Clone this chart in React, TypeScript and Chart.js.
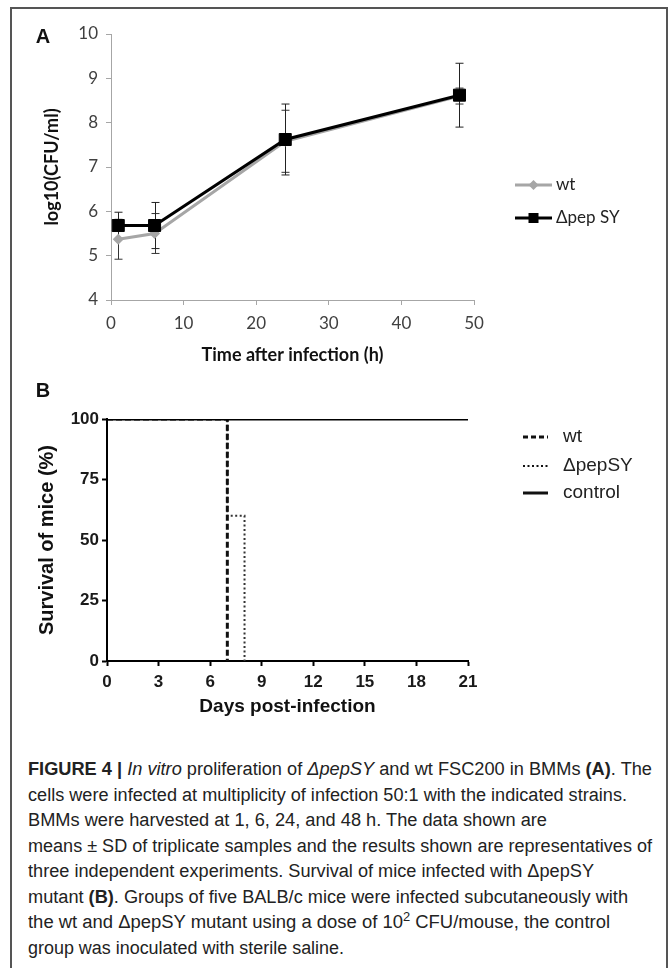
import React, { useEffect, useLayoutEffect, useRef } from "react";
import { Chart, registerables } from "chart.js";

Chart.register(...registerables);

// ---------- Panel A data ----------
const hours = [1, 6, 24, 48];
const wtMean = [5.37, 5.5, 7.58, 8.6];
const wtSD = [0.45, 0.45, 0.7, 0.18];
const pepMean = [5.68, 5.68, 7.62, 8.62];
const pepSD = [0.3, 0.52, 0.8, 0.72];
const xTicksA = [0, 10, 20, 30, 40, 50];
const yTicksA = [4, 5, 6, 7, 8, 9, 10];

// ---------- Panel B data ----------
const wtDays = [0, 7];
const wtSurvival = [100, 0];
const pepDays = [0, 7, 8];
const pepSurvival = [100, 60, 0];
const controlDays = [0, 21];
const controlSurvival = [100, 100];
const xTicksB = [0, 3, 6, 9, 12, 15, 18, 21];
const yTicksB = [0, 25, 50, 75, 100];

const FONT_A = "Lato, 'Open Sans', sans-serif";
const FONT_B = "'Liberation Sans', Arial, sans-serif";

const errorBarPlugin = {
  id: "errorBars",
  beforeDatasetsDraw(chart: any, _args: any, opts: any) {
    const { ctx, scales } = chart;
    const x = scales.x;
    const y = scales.y;
    ctx.save();
    ctx.lineWidth = 1;
    for (const set of opts.sets || []) {
      ctx.strokeStyle = set.color;
      set.xs.forEach((xv: number, i: number) => {
        const px = Math.round(x.getPixelForValue(xv)) + 0.5;
        const top = y.getPixelForValue(set.mean[i] + set.sd[i]);
        const bot = y.getPixelForValue(set.mean[i] - set.sd[i]);
        ctx.beginPath();
        ctx.moveTo(px, top);
        ctx.lineTo(px, bot);
        ctx.moveTo(px - 4, top);
        ctx.lineTo(px + 4, top);
        ctx.moveTo(px - 4, bot);
        ctx.lineTo(px + 4, bot);
        ctx.stroke();
      });
    }
    ctx.restore();
  },
};

const legendAPlugin = {
  id: "legendA",
  afterDraw(chart: any) {
    const { ctx, chartArea } = chart;
    const x0 = chartArea.right + 41;
    const x1 = x0 + 37;
    const xm = (x0 + x1) / 2;
    ctx.save();
    // panel letter
    ctx.fillStyle = "#111";
    ctx.font = `bold 20px ${FONT_B}`;
    ctx.textAlign = "center";
    ctx.textBaseline = "middle";
    ctx.fillText("A", 32, 29);

    ctx.font = `17px ${FONT_A}`;
    ctx.textAlign = "left";
    // wt
    let yy = 177;
    ctx.strokeStyle = "#a6a6a6";
    ctx.lineWidth = 3;
    ctx.beginPath();
    ctx.moveTo(x0, yy);
    ctx.lineTo(x1, yy);
    ctx.stroke();
    ctx.fillStyle = "#a6a6a6";
    ctx.beginPath();
    ctx.moveTo(xm, yy - 5);
    ctx.lineTo(xm + 5, yy);
    ctx.lineTo(xm, yy + 5);
    ctx.lineTo(xm - 5, yy);
    ctx.closePath();
    ctx.fill();
    ctx.fillStyle = "#222";
    ctx.fillText("wt", x1 + 4, yy);
    // pep
    yy = 210;
    ctx.strokeStyle = "#000";
    ctx.beginPath();
    ctx.moveTo(x0, yy);
    ctx.lineTo(x1, yy);
    ctx.stroke();
    ctx.fillStyle = "#000";
    ctx.fillRect(xm - 5, yy - 5, 10, 10);
    ctx.fillStyle = "#222";
    ctx.fillText("\u0394pep SY", x1 + 4, yy);
    ctx.restore();
  },
};

const legendBPlugin = {
  id: "legendB",
  afterDraw(chart: any) {
    const { ctx, chartArea } = chart;
    const x0 = chartArea.right + 55;
    const x1 = x0 + 25;
    ctx.save();
    ctx.fillStyle = "#111";
    ctx.font = `bold 20px ${FONT_B}`;
    ctx.textAlign = "center";
    ctx.textBaseline = "middle";
    ctx.fillText("B", 32, 11);

    ctx.font = `19px ${FONT_B}`;
    ctx.textAlign = "left";
    ctx.fillStyle = "#222";
    ctx.strokeStyle = "#111";
    const rows = [
      { label: "wt", dash: [5, 3], width: 3, y: 57 },
      { label: "\u0394pepSY", dash: [2, 2.5], width: 2, y: 86 },
      { label: "control", dash: [], width: 3, y: 113 },
    ];
    for (const r of rows) {
      ctx.setLineDash(r.dash);
      ctx.lineWidth = r.width;
      ctx.beginPath();
      ctx.moveTo(x0, r.y);
      ctx.lineTo(x1, r.y);
      ctx.stroke();
      ctx.fillText(r.label, x1 + 15, r.y);
    }
    ctx.restore();
  },
};

function ChartA() {
  const ref = useRef<HTMLCanvasElement>(null);
  useEffect(() => {
    const chart = new Chart(ref.current!, {
      type: "line",
      data: {
        datasets: [
          {
            label: "\u0394pep SY",
            data: hours.map((h, i) => ({ x: h, y: pepMean[i] })),
            borderColor: "#000",
            backgroundColor: "#000",
            borderWidth: 3,
            pointStyle: "rect",
            pointRadius: 8.5,
            pointBorderWidth: 1,
          },
          {
            label: "wt",
            data: hours.map((h, i) => ({ x: h, y: wtMean[i] })),
            borderColor: "#a6a6a6",
            backgroundColor: "#a6a6a6",
            borderWidth: 3,
            pointStyle: "rectRot",
            pointRadius: 5.5,
            pointBorderWidth: 0,
          },
        ],
      },
      options: {
        animation: false,
        responsive: false,
        events: [],
        layout: { padding: { top: 26, right: 193, left: 0, bottom: 0 } },
        plugins: {
          legend: { display: false },
          tooltip: { enabled: false },
          errorBars: {
            sets: [
              { xs: hours, mean: wtMean, sd: wtSD, color: "#333" },
              { xs: hours, mean: pepMean, sd: pepSD, color: "#222" },
            ],
          },
        } as any,
        scales: {
          x: {
            type: "linear",
            min: xTicksA[0],
            max: xTicksA[xTicksA.length - 1],
            ticks: {
              stepSize: xTicksA[1] - xTicksA[0],
              color: "#404040",
              font: { family: FONT_A, size: 17 },
              padding: 8,
              maxRotation: 0,
            },
            grid: { drawOnChartArea: false, tickLength: 5, color: "#a6a6a6" },
            border: { color: "#a6a6a6", width: 1 },
            title: {
              display: true,
              text: "Time after infection (h)",
              color: "#111",
              font: { family: FONT_A, size: 18, weight: "bold" },
              padding: { top: 0, bottom: 14 },
            },
            afterFit(s: any) {
              s.height = 80;
            },
          },
          y: {
            type: "linear",
            min: yTicksA[0],
            max: yTicksA[yTicksA.length - 1],
            ticks: {
              stepSize: yTicksA[1] - yTicksA[0],
              color: "#404040",
              font: { family: FONT_A, size: 17 },
              padding: 8,
            },
            grid: { drawOnChartArea: false, tickLength: 5, color: "#a6a6a6" },
            border: { color: "#a6a6a6", width: 1 },
            title: {
              display: true,
              text: "log10(CFU/ml)",
              color: "#111",
              font: { family: FONT_A, size: 18, weight: "bold" },
              padding: { top: 30, bottom: 0 },
            },
            afterFit(s: any) {
              s.width = 100;
            },
          },
        },
      },
      plugins: [errorBarPlugin, legendAPlugin],
    } as any);
    return () => chart.destroy();
  }, []);
  return (
    <canvas
      ref={ref}
      width={656}
      height={372}
      style={{ position: "absolute", left: 11, top: 8, width: 656, height: 372 }}
    />
  );
}

function ChartB() {
  const ref = useRef<HTMLCanvasElement>(null);
  useEffect(() => {
    const chart = new Chart(ref.current!, {
      type: "line",
      data: {
        datasets: [
          {
            label: "control",
            data: controlDays.map((d, i) => ({ x: d, y: controlSurvival[i] })),
            borderColor: "#000",
            borderWidth: 3,
            pointRadius: 0,
            stepped: true,
          },
          {
            label: "wt",
            data: wtDays.map((d, i) => ({ x: d, y: wtSurvival[i] })),
            borderColor: "#111",
            borderWidth: 3,
            borderDash: [6, 3],
            pointRadius: 0,
            stepped: true,
          },
          {
            label: "\u0394pepSY",
            data: pepDays.map((d, i) => ({ x: d, y: pepSurvival[i] })),
            borderColor: "#333",
            borderWidth: 2,
            borderDash: [2, 2.5],
            pointRadius: 0,
            stepped: true,
          },
        ],
      },
      options: {
        animation: false,
        responsive: false,
        events: [],
        layout: { padding: { top: 39, right: 199, left: 0, bottom: 0 } },
        plugins: { legend: { display: false }, tooltip: { enabled: false } },
        scales: {
          x: {
            type: "linear",
            min: xTicksB[0],
            max: xTicksB[xTicksB.length - 1],
            ticks: {
              stepSize: xTicksB[1] - xTicksB[0],
              color: "#1a1a1a",
              font: { family: FONT_B, size: 17, weight: "bold" },
              padding: 6,
              maxRotation: 0,
            },
            grid: { drawOnChartArea: false, tickLength: 5, tickWidth: 2, color: "#000" },
            border: { color: "#000", width: 2 },
            title: {
              display: true,
              text: "Days post-infection",
              color: "#111",
              font: { family: FONT_B, size: 19, weight: "bold" },
              padding: { top: 0, bottom: 12 },
            },
            afterFit(s: any) {
              s.height = 69;
            },
          },
          y: {
            type: "linear",
            min: yTicksB[0],
            max: yTicksB[yTicksB.length - 1],
            ticks: {
              stepSize: yTicksB[1] - yTicksB[0],
              color: "#1a1a1a",
              font: { family: FONT_B, size: 17, weight: "bold" },
              padding: 3,
            },
            grid: { drawOnChartArea: false, tickLength: 5, tickWidth: 2, color: "#000" },
            border: { color: "#000", width: 2 },
            title: {
              display: true,
              text: "Survival of mice (%)",
              color: "#111",
              font: { family: FONT_B, size: 20, weight: "bold" },
              padding: { top: 24, bottom: 0 },
            },
            afterFit(s: any) {
              s.width = 96;
            },
          },
        },
      },
      plugins: [legendBPlugin],
    } as any);
    return () => chart.destroy();
  }, []);
  return (
    <canvas
      ref={ref}
      width={656}
      height={350}
      style={{ position: "absolute", left: 11, top: 380, width: 656, height: 350 }}
    />
  );
}

const captionRight = [652, 627, 547, 652, 594, 628, 610, 344];
const captionLeft = 28;

function Caption() {
  const refs = useRef<(HTMLSpanElement | null)[]>([]);
  useLayoutEffect(() => {
    const fit = () => {
      refs.current.forEach((el, i) => {
        if (!el) return;
        el.style.transform = "none";
        const w = el.getBoundingClientRect().width;
        const target = captionRight[i] - captionLeft;
        if (w > 0) el.style.transform = `scaleX(${target / w})`;
      });
    };
    fit();
    (document as any).fonts?.ready?.then(fit);
  }, []);
  const lines: React.ReactNode[] = [
    <>
      <b>FIGURE 4 |</b> <i>In vitro</i> proliferation of <i>{"\u0394pepSY"}</i> and wt FSC200 in BMMs <b>(A)</b>. The
    </>,
    <>cells were infected at multiplicity of infection 50:1 with the indicated strains.</>,
    <>BMMs were harvested at 1, 6, 24, and 48 h. The data shown are</>,
    <>means ± SD of triplicate samples and the results shown are representatives of</>,
    <>three independent experiments. Survival of mice infected with {"\u0394pepSY"}</>,
    <>
      mutant <b>(B)</b>. Groups of five BALB/c mice were infected subcutaneously with
    </>,
    <>
      the wt and {"\u0394pepSY"} mutant using a dose of 10
      <sup style={{ fontSize: "0.7em", verticalAlign: "super", lineHeight: 0 }}>2</sup> CFU/mouse, the control
    </>,
    <>group was inoculated with sterile saline.</>,
  ];
  return (
    <div
      style={{
        position: "absolute",
        left: captionLeft,
        top: 757,
        fontFamily: "'Liberation Sans Narrow', 'Liberation Sans', Arial, sans-serif",
        fontSize: 18,
        lineHeight: "25.5px",
        color: "#222",
      }}
    >
      {lines.map((l, i) => (
        <div key={i} style={{ height: 25.5, whiteSpace: "nowrap" }}>
          <span
            ref={(el) => {
              refs.current[i] = el;
            }}
            style={{ display: "inline-block", transformOrigin: "0 50%" }}
          >
            {l}
          </span>
        </div>
      ))}
    </div>
  );
}

export default function App() {
  return (
    <div
      style={{
        position: "absolute",
        left: 0,
        top: 0,
        width: 670,
        height: 968,
        overflow: "hidden",
        background: "#fff",
      }}
    >
      <div
        style={{
          position: "absolute",
          left: 10,
          top: 7,
          width: 654,
          height: 1000,
          border: "2px solid #555",
          boxSizing: "content-box",
        }}
      />
      <ChartA />
      <ChartB />
      <Caption />
    </div>
  );
}
